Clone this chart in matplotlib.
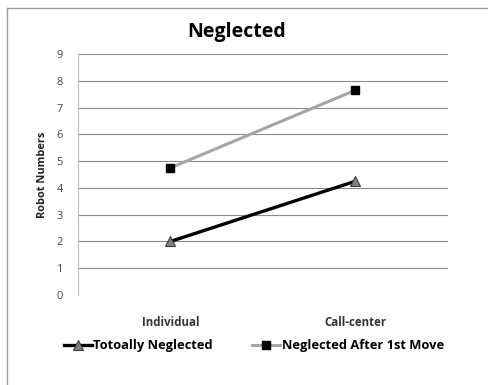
import matplotlib
matplotlib.use("Agg")
import matplotlib.pyplot as plt
from matplotlib.lines import Line2D

plt.rcParams['font.family'] = ['Open Sans', 'DejaVu Sans']

# data
categories = ['Individual', 'Call-center']
totally_neglected = [2.0, 4.25]
neglected_after_move = [4.75, 7.65]
y_ticks = list(range(0, 10))

fig = plt.figure(figsize=(4.89, 3.85), dpi=100)
ax = fig.add_axes([78 / 489, 1 - 295 / 385, 370 / 489, (295 - 54) / 385])

x = list(range(len(categories)))

ax.plot(x, totally_neglected, color='black', linewidth=2.4,
        marker='^', markersize=7, markerfacecolor='#7f7f7f',
        markeredgecolor='#404040', markeredgewidth=0.8,
        label='Totoally Neglected', zorder=3)
ax.plot(x, neglected_after_move, color='#a6a6a6', linewidth=2.2,
        marker='s', markersize=6, markerfacecolor='black',
        markeredgecolor='black', label='Neglected After 1st Move', zorder=3)

ax.set_xlim(-0.5, 1.5)
ax.set_ylim(0, 9)
ax.set_yticks(y_ticks)
ax.set_xticks(x)
ax.set_xticklabels(categories, fontsize=8.3, fontweight='bold', color='#333333')
ax.tick_params(axis='y', labelsize=8, colors='#444444', length=0, pad=11)
ax.tick_params(axis='x', length=0, pad=15)

# gridlines for 1..9
for v in y_ticks[1:]:
    ax.axhline(v, color='#8c8c8c', linewidth=0.8, zorder=1)

for s in ['top', 'right', 'bottom']:
    ax.spines[s].set_visible(False)
ax.spines['left'].set_color('#bfbfbf')
ax.spines['left'].set_linewidth(0.8)

ax.set_ylabel('Robot Numbers', fontsize=7.9, fontweight='bold', color='#222222', labelpad=6)
fig.text(237 / 489, 1 - 32 / 385, 'Neglected', fontsize=14, fontweight='bold',
         ha='center', va='center')

ax.legend(loc='center', bbox_to_anchor=(0.475, -0.21), ncol=2, frameon=False,
          handlelength=2.2, columnspacing=3.0, handletextpad=0.1,
          prop={'weight': 'bold', 'size': 9.3})

# outer chart border (extends past right/bottom edges)
fig.add_artist(Line2D([7 / 489, 7 / 489], [0, 1 - 8 / 385], color='#9a9a9a',
                      linewidth=1.0, transform=fig.transFigure))
fig.add_artist(Line2D([7 / 489, 1], [1 - 8 / 385, 1 - 8 / 385], color='#9a9a9a',
                      linewidth=1.0, transform=fig.transFigure))

fig.savefig('out.png', dpi=100)
